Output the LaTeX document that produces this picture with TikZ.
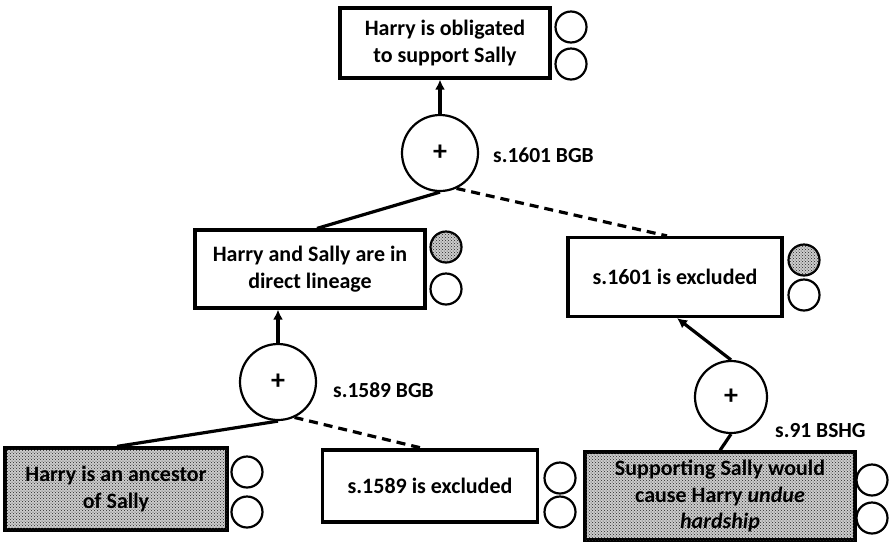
\documentclass[tikz,border=0pt]{standalone}
\usepackage{fontspec}
\setmainfont{Carlito}
\usetikzlibrary{patterns,arrows.meta}
\tikzset{
  claim/.style={draw, line width=3.2pt, align=center, inner sep=0pt, font=\fontsize{22}{26.5}\selectfont\bfseries},
  dotted fill/.style={fill=gray!40, postaction={pattern=crosshatch dots, pattern color=black!85}},
  smallc/.style={draw, circle, line width=2.2pt, minimum size=31pt, inner sep=0pt},
  bigc/.style={draw, circle, line width=2.2pt, minimum size=76pt, inner sep=0pt, font=\fontsize{28}{28}\selectfont\bfseries},
  lbl/.style={anchor=west, inner sep=0pt, font=\fontsize{21.5}{24}\selectfont\bfseries},
  conn/.style={line width=3.2pt},
  arr/.style={line width=3.2pt, -{Latex[length=10pt,width=10pt]}},
  dconn/.style={line width=3.2pt, dash pattern=on 9pt off 6pt},
}
\begin{document}
\begin{tikzpicture}[x=1pt,y=-1pt]
\useasboundingbox (0,0) rectangle (891,542);
% claim boxes
\node[claim, minimum width=210pt, minimum height=70pt] (top) at (445,43) {Harry is obligated\\to support Sally};
\node[claim, minimum width=230pt, minimum height=78pt] (lin) at (310,269) {Harry and Sally are in\\direct lineage};
\node[claim, minimum width=214pt, minimum height=79pt] (ex1601) at (675,277) {s.1601 is excluded};
\node[claim, dotted fill, minimum width=222pt, minimum height=82pt] (anc) at (116,489) {Harry is an ancestor\\of Sally};
\node[claim, minimum width=215pt, minimum height=72pt] (ex1589) at (430,486) {s.1589 is excluded};
\node[claim, dotted fill, minimum width=270pt, minimum height=88pt] (sup) at (720,496) {Supporting Sally would\\cause Harry \textit{undue}\\\textit{hardship}};
% status circles
\node[smallc] (topa) at (571,27) {};
\node[smallc] (topb) at (571,64) {};
\node[smallc, dotted fill] (lina) at (446,247) {};
\node[smallc] (linb) at (446,289) {};
\node[smallc, dotted fill] (exa) at (804,260) {};
\node[smallc] (exb) at (804,295) {};
\node[smallc] (anca) at (247,472) {};
\node[smallc] (ancb) at (247,512) {};
\node[smallc] (exca) at (560,478) {};
\node[smallc] (excb) at (560,512) {};
\node[smallc] (supa) at (872,480) {};
\node[smallc] (supb) at (872,518) {};
% argument circles
\node[bigc] (c1) at (440,153) {+};
\node[bigc] (c2) at (278,382) {+};
\node[bigc, minimum size=72pt] (c3) at (731,397) {+};
% labels
\node[lbl] (l1) at (493,155) {s.1601 BGB};
\node[lbl] (l2) at (333,390) {s.1589 BGB};
\node[lbl] (l3) at (775,431) {s.91 BSHG};
% connectors
\draw[arr] (c1.north) -- (c1.north |- top.south);
\draw[conn] (c1.south) -- ([xshift=7pt]lin.north);
\draw[dconn] (c1.-65) -- ([xshift=-8pt]ex1601.north);
\draw[arr] (c2.north) -- (c2.north |- lin.south);
\draw[conn] (c2.south) -- ([xshift=1pt]anc.north);
\draw[dconn] (c2.-65) -- ([xshift=-7pt]ex1589.north);
\draw[arr] (c3.north) -- ([xshift=2pt]ex1601.south);
\draw[conn] (c3.south) -- (sup.north);
\end{tikzpicture}
\end{document}
